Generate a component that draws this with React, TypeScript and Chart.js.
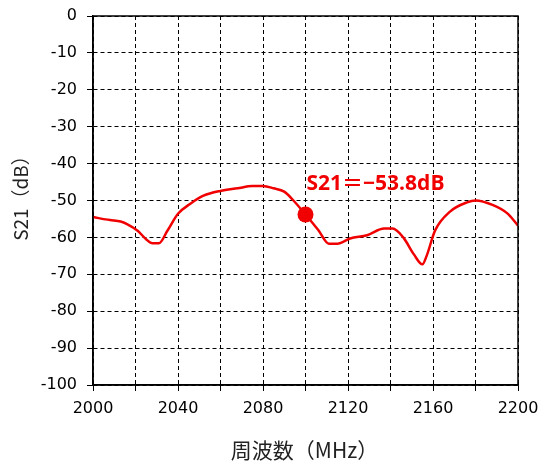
import React, { useEffect, useRef } from "react";
import { Chart, registerables } from "chart.js";

Chart.register(...registerables);

const freqMHz = [2000, 2008, 2013, 2016, 2021, 2025, 2028, 2031, 2035, 2040, 2046, 2052, 2060, 2068, 2075, 2080, 2085, 2090, 2094, 2100, 2106, 2111, 2115, 2121, 2129, 2137, 2141, 2146, 2151, 2155, 2157, 2161, 2168, 2176, 2180, 2188, 2195, 2200];
const s21dB = [-54.5, -55.3, -55.7, -56.4, -58.2, -60.5, -61.6, -61.6, -58.2, -53.6, -50.8, -48.7, -47.4, -46.7, -46.1, -46.1, -46.7, -47.6, -49.8, -53.8, -58.0, -61.7, -61.7, -60.3, -59.4, -57.6, -57.6, -60.0, -64.6, -67.3, -65.0, -58.1, -53.0, -50.5, -50.0, -51.2, -53.5, -56.8];
const markerFreq = [2100];
const markerValue = [-53.8];
const markerLabel = "S21＝−53.8dB";
const xTitle = "周波数（MHz）";
const yTitle = "S21（dB）";

const RED = "#f00000";
const TICK_FONT = { family: "'DejaVu Sans', Tahoma, sans-serif", size: 16 };
const TITLE_FAMILY = "'Noto Sans CJK JP', sans-serif";

const framePlugin = {
  id: "frameAndLabel",
  afterDraw(chart: any) {
    const { ctx, chartArea, scales } = chart;
    ctx.save();
    ctx.strokeStyle = "#000";
    ctx.lineWidth = 1.5;
    ctx.setLineDash([]);
    ctx.strokeRect(chartArea.left, chartArea.top, chartArea.right - chartArea.left, chartArea.bottom - chartArea.top);

    // marker annotation
    const px = scales.x.getPixelForValue(markerFreq[0]);
    const py = scales.y.getPixelForValue(markerValue[0]);
    ctx.fillStyle = RED;
    ctx.font = "bold 21px 'Open Sans', 'Noto Sans CJK JP', sans-serif";
    ctx.textAlign = "left";
    ctx.textBaseline = "middle";
    ctx.fillText(markerLabel, px + 1, py - 31);

    // axis titles
    ctx.fillStyle = "#222";
    ctx.textAlign = "center";
    ctx.textBaseline = "middle";
    ctx.font = `21px ${TITLE_FAMILY}`;
    ctx.fillText(xTitle, (chartArea.left + chartArea.right) / 2 - 1, chart.height - 13);
    ctx.save();
    ctx.translate(21, (chartArea.top + chartArea.bottom) / 2 - 7);
    ctx.rotate(-Math.PI / 2);
    ctx.font = `19px ${TITLE_FAMILY}`;
    ctx.fillText(yTitle, 0, 0);
    ctx.restore();
    ctx.restore();
  },
};

export default function App() {
  const ref = useRef<HTMLCanvasElement | null>(null);
  useEffect(() => {
    if (!ref.current) return;
    const chart = new Chart(ref.current, {
      type: "line",
      data: {
        datasets: [
          {
            data: freqMHz.map((f, i) => ({ x: f, y: s21dB[i] })),
            borderColor: RED,
            borderWidth: 2.5,
            pointRadius: 0,
            cubicInterpolationMode: "monotone",
            fill: false,
          },
          {
            data: markerFreq.map((f, i) => ({ x: f, y: markerValue[i] })),
            showLine: false,
            pointRadius: 8,
            pointBackgroundColor: RED,
            pointBorderColor: RED,
            pointBorderWidth: 0,
          },
        ],
      },
      options: {
        responsive: false,
        animation: false,
        layout: { padding: { left: 0, top: 16, right: 23, bottom: 0 } },
        plugins: { legend: { display: false }, tooltip: { enabled: false } },
        scales: {
          x: {
            type: "linear",
            min: 2000,
            max: 2200,
            afterFit: (s: any) => { s.height = 78; s.paddingLeft = 0; s.paddingRight = 0; },
            ticks: {
              stepSize: 20,
              autoSkip: false,
              maxRotation: 0,
              color: "#000",
              font: TICK_FONT,
              padding: 8,
              callback: (v: any) => (Number(v) % 40 === 0 ? String(v) : ""),
            },
            grid: { color: "#000", lineWidth: 1, tickLength: 6, tickColor: "#000", tickBorderDash: [] },
            border: { display: true, color: "#000", width: 1.5, dash: [4, 3] },
            title: { display: false },
          },
          y: {
            type: "linear",
            min: -100,
            max: 0,
            afterFit: (s: any) => { s.width = 93; s.paddingTop = 0; s.paddingBottom = 0; },
            ticks: { stepSize: 10, color: "#000", font: TICK_FONT, padding: 10 },
            grid: { color: "#000", lineWidth: 1, tickLength: 6, tickColor: "#000", tickBorderDash: [] },
            border: { display: true, color: "#000", width: 1.5, dash: [4, 3] },
            title: { display: false },
          },
        },
      },
      plugins: [framePlugin],
    } as any);
    return () => chart.destroy();
  }, []);
  return (
    <div style={{ position: "absolute", left: 0, top: 0, width: 541, height: 463, background: "#fff" }}>
      <canvas ref={ref} width={541} height={463} />
    </div>
  );
}
